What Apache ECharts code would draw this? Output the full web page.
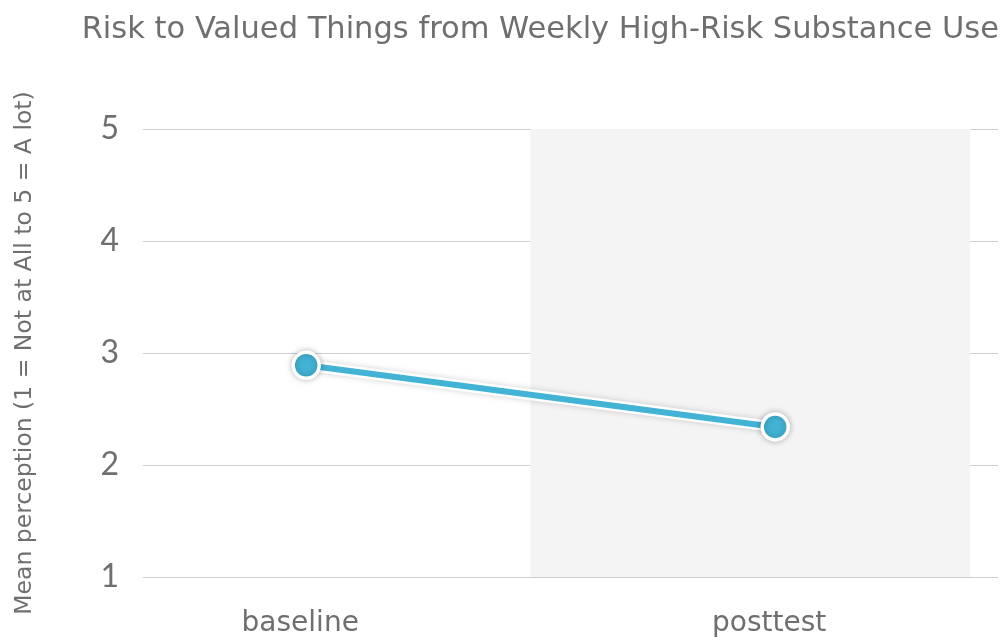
<!DOCTYPE html>
<html>
<head>
<meta charset="utf-8">
<script src="https://cdn.jsdelivr.net/npm/echarts@6/dist/echarts.min.js"></script>
<style>
  html, body { margin: 0; padding: 0; background: #fff; }
  #main { width: 1001px; height: 643px; }
</style>
</head>
<body>
<div id="main"></div>
<script>
// data
var categories = ['baseline', 'posttest'];
var meanValues = [2.89, 2.34];
var yTicks = [1, 2, 3, 4, 5];
var shadedRange = [0.478, 1.416]; // x-range of grey band around posttest

var chart = echarts.init(document.getElementById('main'));

var points = meanValues.map(function (v, i) { return [i, v]; });
var grey = '#6f6f6f';
var font = 'DejaVu Sans';

var option = {
    animation: false,
    title: {
        text: 'Risk to Valued Things from Weekly High-Risk Substance Use',
        right: -3,
        top: 10,
        textStyle: { fontFamily: font, fontSize: 30.5, fontWeight: 'normal', color: grey }
    },
    grid: { left: 143, right: 3, top: 129, bottom: 66 },
    xAxis: {
        type: 'value',
        min: -0.348,
        max: 1.475,
        splitLine: { show: false },
        axisLine: { show: false },
        axisTick: { show: false },
        axisLabel: {
            customValues: [0, 1],
            formatter: function (v) { return categories[Math.round(v)]; },
            margin: 33,
            padding: [0, 12, 0, 0],
            fontFamily: font,
            fontSize: 28,
            color: grey
        }
    },
    yAxis: {
        type: 'value',
        min: 1,
        max: 5,
        interval: 1,
        name: 'Mean perception (1 = Not at All to 5 = A lot)',
        nameLocation: 'middle',
        nameRotate: 90,
        nameGap: 106,
        nameTextStyle: { fontFamily: font, fontSize: 23.5, color: grey },
        axisLine: { show: false },
        axisTick: { show: false },
        axisLabel: {
            customValues: yTicks,
            margin: 24,
            fontFamily: 'Lato',
            fontSize: 32,
            color: grey
        },
        splitLine: { lineStyle: { color: '#cfcfcf', width: 1 } }
    },
    series: [
        {
            type: 'line',
            data: points,
            symbol: 'none',
            silent: true,
            lineStyle: {
                color: '#ffffff', width: 11,
                shadowColor: 'rgba(0,0,0,0.18)', shadowBlur: 6
            },
            markArea: {
                silent: true,
                itemStyle: { color: '#f4f4f4' },
                data: [[{ xAxis: shadedRange[0], yAxis: 5 }, { xAxis: shadedRange[1], yAxis: 1 }]]
            },
            z: 2
        },
        {
            type: 'line',
            data: points,
            symbol: 'circle',
            symbolSize: 26,
            lineStyle: { color: '#42b3d5', width: 6 },
            itemStyle: {
                color: '#42b3d5', borderColor: '#ffffff', borderWidth: 3.5,
                shadowColor: 'rgba(0,0,0,0.25)', shadowBlur: 6
            },
            z: 3
        }
    ]
};

chart.setOption(option);
</script>
</body>
</html>
